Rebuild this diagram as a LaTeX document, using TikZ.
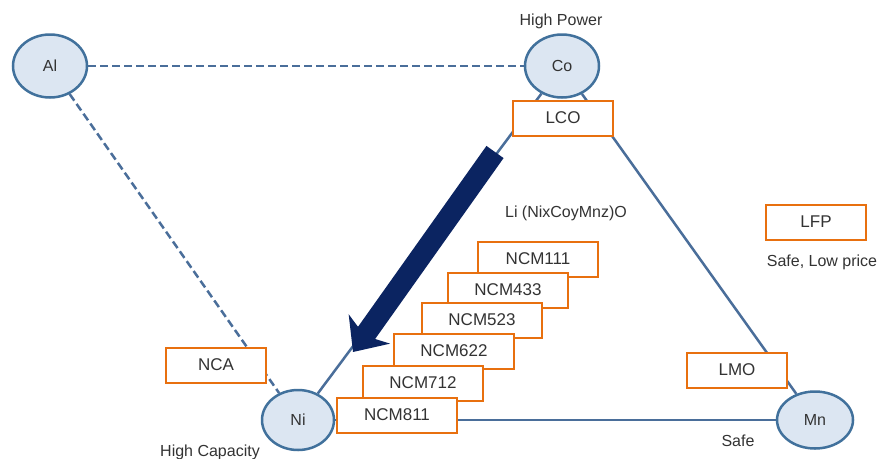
\documentclass[tikz,border=0pt]{standalone}
\usepackage{fontspec}
\setmainfont{Liberation Sans}
\usetikzlibrary{shapes.geometric,arrows.meta,backgrounds}
\definecolor{cfill}{HTML}{DCE6F2}
\definecolor{cline}{HTML}{41719C}
\definecolor{lline}{HTML}{4A6E9A}
\definecolor{obox}{HTML}{E8700F}
\definecolor{navyarrow}{HTML}{0B2461}
\definecolor{txt}{HTML}{333333}
\begin{document}
\begin{tikzpicture}[x=1pt,y=-1pt,
 elem/.style={ellipse, draw=cline, fill=cfill, line width=2.5pt, minimum width=74pt, minimum height=63pt, inner sep=0pt, text=txt, font=\fontsize{16}{19}\selectfont},
 mat/.style={rectangle, draw=obox, fill=white, line width=2pt, minimum width=100pt, minimum height=35pt, inner sep=0pt, text=txt, font=\fontsize{17}{20}\selectfont},
 ncm/.style={mat, minimum width=120pt},
 lbl/.style={text=txt, font=\fontsize{16}{19}\selectfont, inner sep=0pt},
 conn/.style={draw=lline, line width=2.5pt},
 dashconn/.style={conn, dash pattern=on 8pt off 4pt}
]
\useasboundingbox (0,0) rectangle (890,458);
\clip (0,0) rectangle (890,458);

\node[elem] (al) at (50,66) {Al};
\node[elem] (co) at (562,66) {Co};
\node[elem, minimum width=72pt, minimum height=60pt] (ni) at (298,420) {Ni};
\node[elem, minimum width=76pt, minimum height=57pt] (mn) at (815,420) {Mn};

\node[mat] (lco) at (563,118) {LCO};
\node[mat] (lfp) at (816,222) {LFP};
\node[mat] (lmo) at (737,370) {LMO};
\node[mat] (nca) at (216,365) {NCA};

\node[ncm] (n111) at (538,259) {NCM111};
\node[ncm] (n433) at (508,290) {NCM433};
\node[ncm] (n523) at (482,320) {NCM523};
\node[ncm] (n622) at (454,351) {NCM622};
\node[ncm] (n712) at (423,383) {NCM712};
\node[ncm] (n811) at (397,415) {NCM811};

\node[lbl] (hp) at (561,21) {High Power};
\node[lbl] (li) at (566,213) {Li (NixCoyMnz)O};
\node[lbl] (slp) at (822,262) {Safe, Low price};
\node[lbl] (safe) at (738,441) {Safe};
\node[lbl] (hc) at (210,452) {High Capacity};

\begin{scope}[on background layer]
\fill[white] (0,0) rectangle (890,458);
\draw[dashconn] (al) -- (co);
\draw[dashconn] (al) -- (ni);
\draw[conn] (co) -- (ni);
\draw[conn] (co) -- (mn);
\draw[conn] (ni) -- (mn);
\end{scope}

\coordinate (atail) at (495,152);
\coordinate (ahead) at (353,352);
\draw[navyarrow, line width=21pt, -{Stealth[length=28pt, width=50pt, inset=8pt]}] (atail) -- (ahead);
\end{tikzpicture}
\end{document}
